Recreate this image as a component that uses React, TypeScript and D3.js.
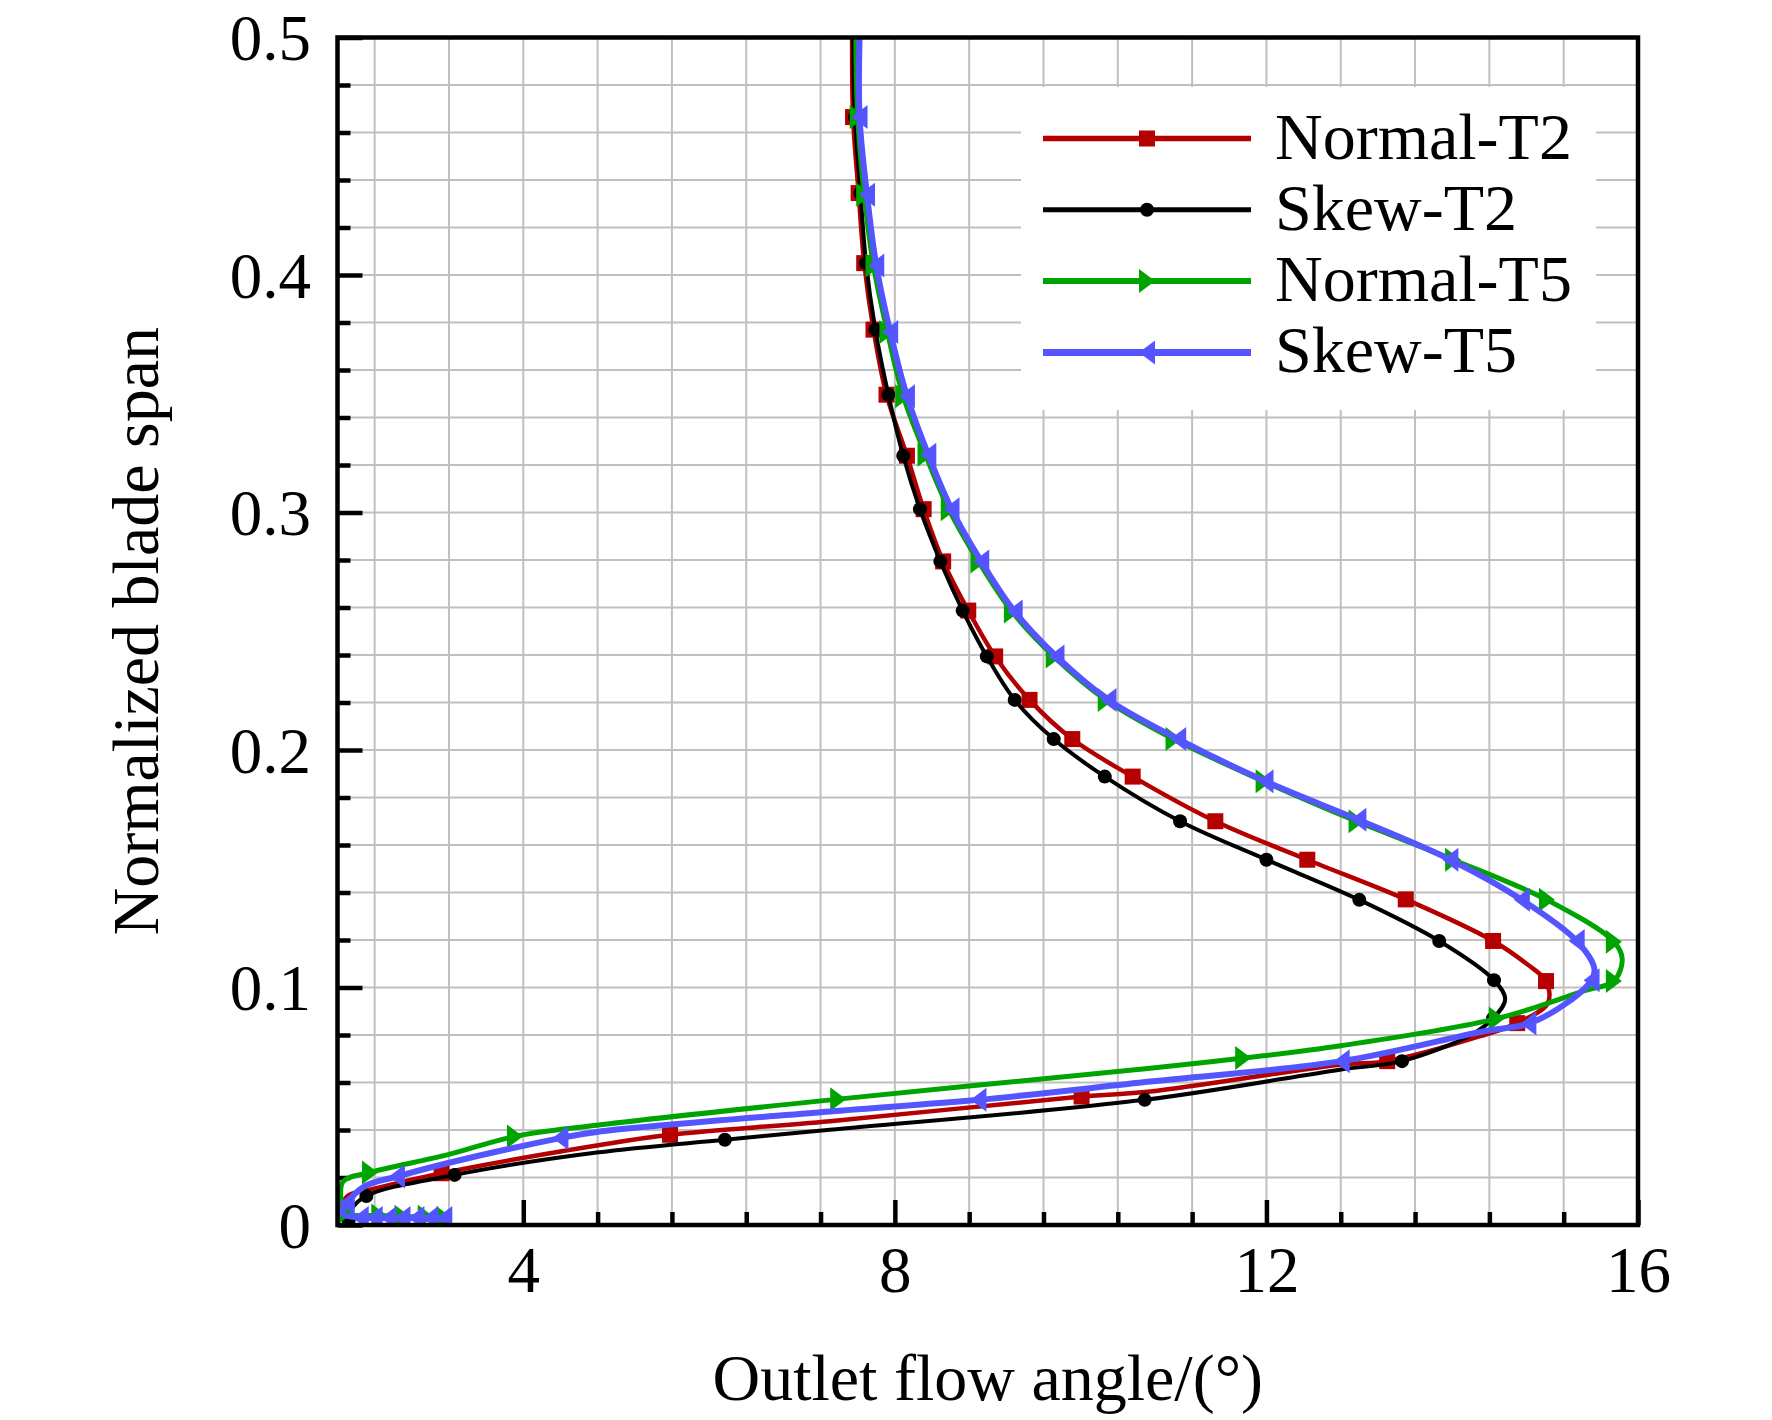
import React, { useRef, useEffect } from 'react';
import * as d3 from 'd3';

// [angle, span, marker?]
type Pt = [number, number, number];

const normalT2: Pt[] = [
  [7.54, 0.5, 0], [7.55, 0.4665, 1], [7.61, 0.4345, 1], [7.67, 0.405, 1], [7.77, 0.377, 1],
  [7.91, 0.3496, 1], [8.13, 0.3239, 1], [8.31, 0.3014, 1], [8.52, 0.2794, 1], [8.79, 0.2587, 1],
  [9.08, 0.2394, 1], [9.45, 0.2211, 1], [9.91, 0.2046, 1], [10.56, 0.1888, 1], [11.45, 0.17, 1],
  [12.44, 0.1538, 1], [13.5, 0.1371, 1], [14.44, 0.1196, 1], [14.8, 0.11, 0], [15.01, 0.1027, 1],
  [15.03, 0.0935, 0], [14.7, 0.085, 1], [14.3, 0.0795, 0], [13.3, 0.069, 1], [12.79, 0.0675, 0],
  [10.75, 0.0562, 0], [10.01, 0.0541, 1], [7.3, 0.0437, 0], [5.58, 0.038, 1], [4.79, 0.0335, 0],
  [3.12, 0.0218, 1], [2.42, 0.0155, 0], [2.1, 0.012, 0], [2.05, 0.006, 0],
];

const skewT2: Pt[] = [
  [7.55, 0.5, 0], [7.57, 0.4665, 1], [7.63, 0.4345, 1], [7.69, 0.405, 1], [7.79, 0.377, 1],
  [7.93, 0.3496, 1], [8.09, 0.3239, 1], [8.27, 0.3014, 1], [8.49, 0.2794, 1], [8.73, 0.2587, 1],
  [8.99, 0.2394, 1], [9.29, 0.2211, 1], [9.71, 0.2046, 1], [10.26, 0.1888, 1], [11.07, 0.17, 1],
  [12.0, 0.1538, 1], [13.0, 0.1369, 1], [13.86, 0.1196, 1], [14.45, 0.1031, 1], [14.57, 0.095, 0],
  [14.44, 0.087, 1], [14.2, 0.08, 0], [13.46, 0.069, 1], [12.79, 0.0654, 0], [10.69, 0.0527, 1],
  [7.3, 0.0401, 0], [6.17, 0.0359, 1], [4.79, 0.0305, 0], [3.26, 0.0211, 1], [2.31, 0.0122, 1],
  [2.14, 0.006, 0], [2.12, 0.002, 1],
];

const normalT5: Pt[] = [
  [7.58, 0.5, 0], [7.6, 0.4665, 1], [7.67, 0.4338, 1], [7.77, 0.404, 1], [7.92, 0.376, 1],
  [8.09, 0.349, 1], [8.33, 0.3243, 1], [8.58, 0.3014, 1], [8.9, 0.2794, 1], [9.26, 0.2583, 1],
  [9.71, 0.2394, 1], [10.27, 0.2211, 1], [11.0, 0.2046, 1], [11.97, 0.1868, 1], [12.97, 0.17, 1],
  [14.01, 0.1538, 1], [15.02, 0.1369, 1], [15.74, 0.1193, 1], [15.83, 0.112, 0], [15.74, 0.1027, 1],
  [15.41, 0.0985, 0], [14.48, 0.0869, 1], [12.8, 0.0755, 0], [11.75, 0.0703, 1], [10.75, 0.066, 0],
  [7.39, 0.053, 1], [4.79, 0.042, 0], [3.91, 0.0373, 1], [3.18, 0.0295, 0], [2.35, 0.0221, 1],
  [2.06, 0.0183, 0], [2.04, 0.01, 0], [2.08, 0.005, 1], [2.2, 0.004, 0], [2.45, 0.004, 1],
  [2.7, 0.0035, 1], [2.95, 0.0035, 1], [3.15, 0.003, 1],
];

const skewT5: Pt[] = [
  [7.62, 0.5, 0], [7.62, 0.4665, 1], [7.7, 0.4338, 1], [7.8, 0.404, 1], [7.95, 0.376, 1],
  [8.13, 0.349, 1], [8.36, 0.3243, 1], [8.61, 0.3014, 1], [8.93, 0.2794, 1], [9.29, 0.2583, 1],
  [9.74, 0.2394, 1], [10.3, 0.2211, 1], [11.05, 0.2046, 1], [11.99, 0.1868, 1], [12.99, 0.1706, 1],
  [13.98, 0.1538, 1], [14.75, 0.1369, 1], [15.34, 0.1196, 1], [15.53, 0.108, 0], [15.5, 0.1031, 1],
  [15.23, 0.0934, 0], [14.82, 0.0848, 1], [14.33, 0.0815, 0], [12.81, 0.069, 1], [10.75, 0.0604, 0],
  [8.9, 0.0527, 1], [7.3, 0.0478, 0], [4.79, 0.0392, 0], [4.4, 0.0366, 1], [3.18, 0.026, 0],
  [2.64, 0.0204, 1], [2.3, 0.0165, 0], [2.1, 0.0092, 1], [2.05, 0.005, 0], [2.25, 0.003, 1],
  [2.4, 0.003, 1], [2.55, 0.003, 1], [2.7, 0.003, 1], [2.85, 0.003, 1], [3.0, 0.003, 1], [3.15, 0.003, 1],
];

const seriesNames = ['Normal-T2', 'Skew-T2', 'Normal-T5', 'Skew-T5'];
const seriesColors = ['#b40000', '#000000', '#00a400', '#5555ff'];
const seriesShapes = ['square', 'circle', 'triRight', 'triLeft'];
const seriesWidths = [4.5, 4, 5, 6];
const seriesData = [normalT2, skewT2, normalT5, skewT5];

const xMajor = [4, 8, 12, 16];
const xMinor = [2.4, 3.2, 4.8, 5.6, 6.4, 7.2, 8.8, 9.6, 10.4, 11.2, 12.8, 13.6, 14.4, 15.2];
const yMajor = [0, 0.1, 0.2, 0.3, 0.4, 0.5];
const yMinor = [0.02, 0.04, 0.06, 0.08, 0.12, 0.14, 0.16, 0.18, 0.22, 0.24, 0.26, 0.28,
  0.32, 0.34, 0.36, 0.38, 0.42, 0.44, 0.46, 0.48];

const W = 1772;
const H = 1420;
const FONT = '"Liberation Serif", "Times New Roman", serif';

const drawMarker = (g: any, shape: string, cx: number, cy: number, color: string) => {
  if (shape === 'square') {
    g.append('rect').attr('x', cx - 8).attr('y', cy - 8).attr('width', 16).attr('height', 16).attr('fill', color);
  } else if (shape === 'circle') {
    g.append('circle').attr('cx', cx).attr('cy', cy).attr('r', 7).attr('fill', color);
  } else if (shape === 'triRight') {
    g.append('path').attr('d', `M${cx + 8},${cy} L${cx - 8},${cy - 12} L${cx - 8},${cy + 12} Z`).attr('fill', color);
  } else {
    g.append('path').attr('d', `M${cx - 8},${cy} L${cx + 8},${cy - 12} L${cx + 8},${cy + 12} Z`).attr('fill', color);
  }
};

const Chart: React.FC = () => {
  const svgRef = useRef<SVGSVGElement>(null);

  useEffect(() => {
    if (!svgRef.current) return;
    d3.select(svgRef.current).selectAll('*').remove();

    const svg = d3.select(svgRef.current)
      .attr('width', W)
      .attr('height', H);

    svg.append('rect').attr('width', W).attr('height', H).attr('fill', '#fff');

    const x = d3.scaleLinear().domain([2, 16]).range([337.5, 1638]);
    const y = d3.scaleLinear().domain([0, 0.5]).range([1225, 37.5]);
    const [x0, x1] = x.range();
    const [y0, y1] = y.range();

    // grille
    const grid = svg.append('g').attr('stroke', '#c0c0c0').attr('stroke-width', 2);
    [...xMinor, 4, 8, 12].forEach(v => {
      grid.append('line').attr('x1', x(v)).attr('x2', x(v)).attr('y1', y1).attr('y2', y0);
    });
    [...yMinor, 0.1, 0.2, 0.3, 0.4].forEach(v => {
      grid.append('line').attr('x1', x0).attr('x2', x1).attr('y1', y(v)).attr('y2', y(v));
    });

    // fond blanc de la légende
    svg.append('rect').attr('x', 1021).attr('y', 87).attr('width', 575).attr('height', 323).attr('fill', '#fff');

    // axes (ticks vers l'intérieur)
    const styleAxis = (g: any) => {
      g.select('.domain').remove();
      g.selectAll('.tick line').attr('stroke', '#000').attr('stroke-width', 4.5);
      g.attr('font-family', FONT).attr('font-size', 65);
      g.selectAll('.tick text').attr('fill', '#000');
    };

    svg.append('g')
      .attr('transform', `translate(0,${y0})`)
      .call(d3.axisBottom(x).tickValues(xMinor).tickSize(-13).tickFormat(() => ''))
      .call(styleAxis);
    svg.append('g')
      .attr('transform', `translate(0,${y0})`)
      .call(d3.axisBottom(x).tickValues(xMajor).tickSize(-25).tickPadding(21).tickFormat(d3.format('d')))
      .call(styleAxis);

    svg.append('g')
      .attr('transform', `translate(${x0},0)`)
      .call(d3.axisLeft(y).tickValues(yMinor).tickSize(-13).tickFormat(() => ''))
      .call(styleAxis);
    const yAxis = svg.append('g')
      .attr('transform', `translate(${x0},0)`)
      .call(d3.axisLeft(y).tickValues(yMajor).tickSize(-25).tickPadding(26.5)
        .tickFormat((d: any) => (d === 0 ? '0' : d3.format('.1f')(d))))
      .call(styleAxis);
    yAxis.selectAll('.tick text').attr('dy', '0.34em');

    // courbes
    svg.append('clipPath').attr('id', 'plot-clip')
      .append('rect').attr('x', x0).attr('y', y1).attr('width', x1 - x0).attr('height', y0 - y1);

    const line = d3.line<Pt>()
      .x(d => x(d[0]))
      .y(d => y(d[1]))
      .curve(d3.curveCatmullRom.alpha(0.5));

    const plot = svg.append('g').attr('clip-path', 'url(#plot-clip)');
    seriesData.forEach((data, i) => {
      const g = plot.append('g');
      g.append('path')
        .datum(data)
        .attr('fill', 'none')
        .attr('stroke', seriesColors[i])
        .attr('stroke-width', seriesWidths[i])
        .attr('stroke-linejoin', 'round')
        .attr('d', line);
      data.filter(d => d[2] === 1).forEach(d => {
        drawMarker(g, seriesShapes[i], x(d[0]), y(d[1]), seriesColors[i]);
      });
    });

    // cadre
    svg.append('rect')
      .attr('x', x0).attr('y', y1)
      .attr('width', x1 - x0).attr('height', y0 - y1)
      .attr('fill', 'none').attr('stroke', '#000').attr('stroke-width', 4.5);

    // légende
    const legend = svg.append('g');
    seriesNames.forEach((name, i) => {
      const ly = 138.5 + i * 71.3;
      legend.append('line')
        .attr('x1', 1043).attr('x2', 1251).attr('y1', ly).attr('y2', ly)
        .attr('stroke', seriesColors[i]).attr('stroke-width', seriesWidths[i] + 1);
      drawMarker(legend, seriesShapes[i], 1147, ly, seriesColors[i]);
      legend.append('text')
        .attr('x', 1275).attr('y', ly + 20)
        .attr('font-family', FONT).attr('font-size', 66)
        .text(name);
    });

    // titres des axes
    svg.append('text')
      .attr('x', (x0 + x1) / 2).attr('y', 1400)
      .attr('text-anchor', 'middle')
      .attr('font-family', FONT).attr('font-size', 66)
      .text('Outlet flow angle/(°)');

    svg.append('text')
      .attr('transform', `translate(158,${(y0 + y1) / 2}) rotate(-90)`)
      .attr('text-anchor', 'middle')
      .attr('font-family', FONT).attr('font-size', 66)
      .text('Normalized blade span');
  }, []);

  return <svg ref={svgRef} style={{ position: 'absolute', left: 0, top: 0 }}></svg>;
};

export default function App() {
  return <Chart />;
}
